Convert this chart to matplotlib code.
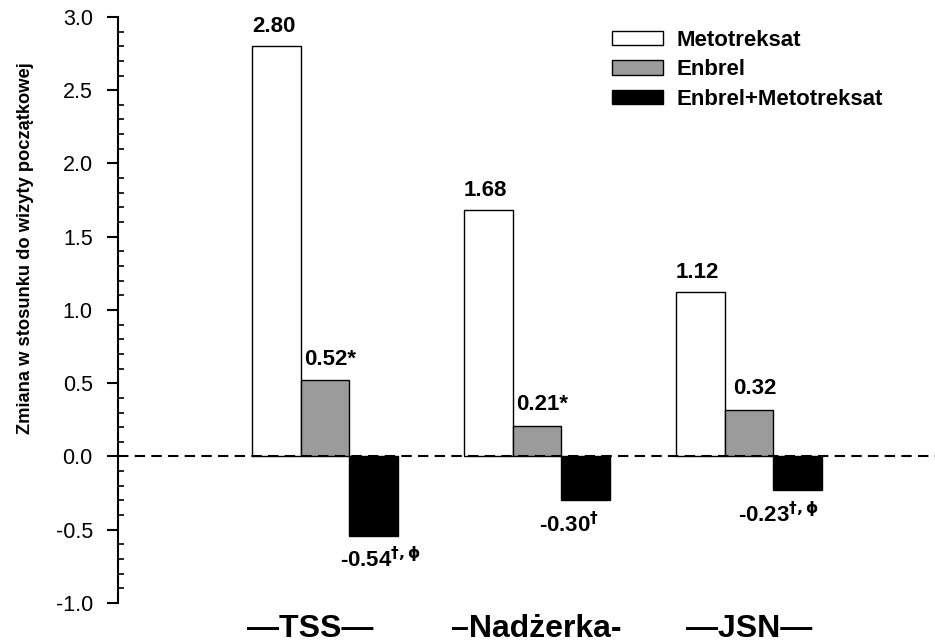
import numpy as np
import matplotlib.pyplot as plt
from matplotlib.patches import Patch
from matplotlib.ticker import MultipleLocator

plt.rcParams['font.family'] = ['Liberation Sans', 'DejaVu Sans']
plt.rcParams['mathtext.default'] = 'bf'

# dane
groups = ['—TSS—', '–Nadżerka-', '—JSN—']
series = ['Metotreksat', 'Enbrel', 'Enbrel+Metotreksat']
metotreksat = [2.80, 1.68, 1.12]
enbrel = [0.52, 0.21, 0.32]
enbrel_mtx = [-0.54, -0.30, -0.23]
lab_mtx = ['2.80', '1.68', '1.12']
lab_enb = ['0.52*', '0.21*', '0.32']
lab_comb = [r'-0.54$^{\dagger,\phi}$', r'-0.30$^{\dagger}$', r'-0.23$^{\dagger,\phi}$']

colors = ['white', '#9b9b9b', 'black']
x = np.arange(len(groups))
w = 0.229

fig = plt.figure(figsize=(9.35, 6.44), dpi=100)
ax = fig.add_axes([0.126, 0.0637, 0.874, 0.91])

ax.bar(x - w, metotreksat, w, color=colors[0], edgecolor='black', linewidth=1)
ax.bar(x, enbrel, w, color=colors[1], edgecolor='black', linewidth=1)
ax.bar(x + w, enbrel_mtx, w, color=colors[2], edgecolor='black', linewidth=1)

# etykiety wartosci
for xi, v, t in zip(x - w, metotreksat, lab_mtx):
    ax.annotate(t, (xi, v), xytext=(-2, 10), textcoords='offset points',
                ha='center', va='baseline', fontsize=16, fontweight='bold')
for xi, v, t in zip(x, enbrel, lab_enb):
    ax.annotate(t, (xi, v), xytext=(4, 11), textcoords='offset points',
                ha='center', va='baseline', fontsize=16, fontweight='bold')
for xi, v, t, dx in zip(x + w, enbrel_mtx, lab_comb, [5, -12, -14]):
    ax.annotate(t, (xi, v), xytext=(dx, -23), textcoords='offset points',
                ha='center', va='baseline', fontsize=16, fontweight='bold')

ax.axhline(0, color='black', linestyle=(0, (5, 3)), linewidth=1.5)

ax.set_xlim(-0.976, 2.877)
ax.set_ylim(-1.0, 3.0)
ax.yaxis.set_major_locator(MultipleLocator(0.5))
ax.yaxis.set_minor_locator(MultipleLocator(0.1))
ax.tick_params(axis='y', which='major', direction='out', length=8, width=1.5, labelsize=15.5, pad=10)
ax.tick_params(axis='y', which='minor', direction='in', length=4, width=1.2)
ax.yaxis.set_major_formatter(plt.FuncFormatter(lambda v, p: f'{v:.1f}'))
ax.set_xticks([])
for s in ['top', 'right', 'bottom']:
    ax.spines[s].set_visible(False)
ax.spines['left'].set_linewidth(1.5)

ax.set_ylabel('Zmiana w stosunku do wizyty początkowej', fontsize=13.2, fontweight='bold')
ax.yaxis.set_label_coords(-0.102, 0.605)

for xi, g, dx in zip(x, groups, [-0.07, -0.005, 0.0]):
    ax.text(xi + dx, -1.175, g, ha='center', va='center', fontsize=23, fontweight='bold')

handles = [Patch(facecolor=c, edgecolor='black') for c in colors]
ax.legend(handles, series, loc='upper left', bbox_to_anchor=(0.6047, 0.978), frameon=False,
          prop={'size': 16, 'weight': 'bold'}, handlelength=2.3, handleheight=0.63,
          labelspacing=0.38, handletextpad=0.6, borderpad=0, borderaxespad=0)

fig.savefig('out.png', dpi=100)
